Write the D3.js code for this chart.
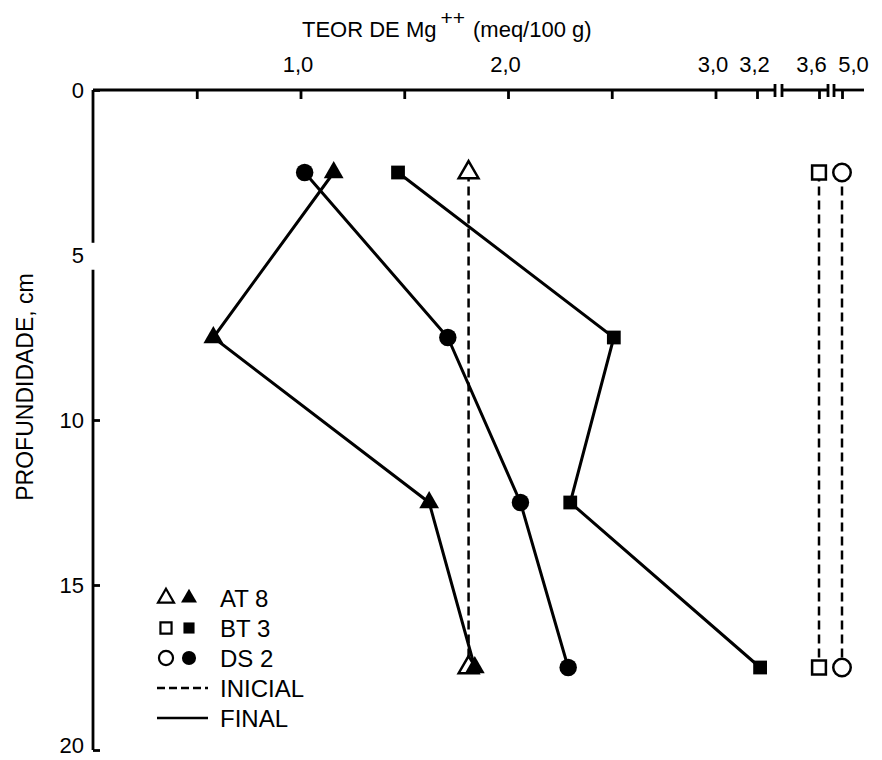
<html lang="pt">
<head>
<meta charset="utf-8">
<title>Teor de Mg++</title>
<style>
    body { margin: 0; background-color: white; }
    svg { background-color: white; font-family: "Liberation Sans", Arial, Helvetica, sans-serif; }
    .axis text { font-size: 22px; fill: black; }
    .axis line { stroke: black; stroke-width: 2.8; }
    .label { font-size: 22px; fill: black; }
    .legend text { font-size: 24px; fill: black; }
</style>
</head>
<body>
<script src="https://cdnjs.cloudflare.com/ajax/libs/d3/7.8.5/d3.min.js"></script>
<script>
// depths (cm)
var depths = [2.5, 7.5, 12.5, 17.5];
var initialDepths = [2.5, 17.5];

// Mg++ final (meq/100 g)
var at8Final = [1.16, 0.58, 1.62, 1.84];
var bt3Final = [1.47, 2.51, 2.30, 3.22];
var ds2Final = [1.02, 1.71, 2.06, 2.29];

// Mg++ initial
var at8Initial = [1.81, 1.81];
var bt3Initial = [3.6, 3.6];
var ds2Initial = [5.0, 5.0];

var xTicks = [0.5, 1.0, 1.5, 2.0, 2.5, 3.0, 3.2, 3.6, 5.0];
var xLabeled = [1.0, 2.0, 3.0, 3.2, 3.6, 5.0];
var yTicks = [0, 5, 10, 15, 20];

var legendNames = ["AT 8", "BT 3", "DS 2"];

var fullwidth = 882, fullheight = 760;

var svg = d3.select("body").append("svg")
    .attr("width", fullwidth)
    .attr("height", fullheight);

// broken axis: 0-3.2 linear, then 3.6 and 5.0 squeezed in
var xScale = d3.scaleLinear()
    .domain([0, 3.2, 3.6, 5.0, 5.1])
    .range([93, 757, 819, 842, 864]);

var yScale = d3.scaleLinear()
    .domain([0, 20])
    .range([90, 750]);

var comma = function(d) { return d3.format(".1f")(d).replace(".", ","); };

// top axis
var xAxis = d3.axisTop(xScale)
    .tickValues(xTicks)
    .tickSize(-9)
    .tickPadding(18)
    .tickFormat(function(d) { return xLabeled.indexOf(d) >= 0 ? comma(d) : ""; });

var gx = svg.append("g")
    .attr("class", "x axis")
    .attr("transform", "translate(0," + yScale(0) + ")")
    .call(xAxis);
gx.select(".domain").remove();
// crowded labels near the breaks are nudged apart
gx.selectAll("text").attr("dx", function(d) {
    return d === 5.0 ? 11 : d === 3.6 ? -8 : -3;
});

// axis line with two breaks
var breaks = [[775, 782], [828, 834]];
var segs = [[xScale(0), breaks[0][0]], [breaks[0][1], breaks[1][0]], [breaks[1][1], xScale(5.1)]];
gx.selectAll(".seg").data(segs).enter().append("line")
    .attr("class", "seg")
    .attr("x1", function(d) { return d[0]; })
    .attr("x2", function(d) { return d[1]; })
    .attr("y1", 0).attr("y2", 0);
gx.selectAll(".brk").data(d3.merge(breaks)).enter().append("line")
    .attr("class", "brk")
    .attr("x1", function(d) { return d; })
    .attr("x2", function(d) { return d; })
    .attr("y1", -6).attr("y2", 7);

// left axis
var yAxis = d3.axisLeft(yScale)
    .tickValues(yTicks)
    .tickSize(-7)
    .tickPadding(9);

var gy = svg.append("g")
    .attr("class", "y axis")
    .attr("transform", "translate(" + xScale(0) + ",0)")
    .call(yAxis);
gy.select(".domain").remove();
gy.selectAll(".tick").filter(function(d) { return d === 5; }).select("line").remove();
// keep the bottom label inside the picture
gy.selectAll(".tick").filter(function(d) { return d === 20; }).select("text").attr("dy", "0.12em");
gy.selectAll(".yseg").data([[0, 4.63], [5.45, 20]]).enter().append("line")
    .attr("class", "yseg")
    .attr("x1", 0).attr("x2", 0)
    .attr("y1", function(d) { return yScale(d[0]); })
    .attr("y2", function(d) { return yScale(d[1]); });

// titles
var title = svg.append("text")
    .attr("class", "label")
    .attr("x", 302)
    .attr("y", 37);
title.append("tspan").text("TEOR DE Mg");
title.append("tspan").attr("dy", -12).attr("dx", 4).style("font-size", "21px").text("++");
title.append("tspan").attr("dy", 12).attr("dx", 8).text("(meq/100 g)");

svg.append("text")
    .attr("class", "label")
    .attr("transform", "translate(33,387) rotate(-90)")
    .attr("text-anchor", "middle")
    .style("font-size", "23px")
    .text("PROFUNDIDADE, cm");

// lines
var line = d3.line()
    .x(function(d) { return xScale(d[0]); })
    .y(function(d) { return yScale(d[1]); });

function pairs(vals, deps) {
    return vals.map(function(v, i) { return [v, deps[i]]; });
}

var series = [
    { shape: d3.symbolTriangle, size: 170, fin: at8Final, ini: at8Initial },
    { shape: d3.symbolSquare, size: 190, fin: bt3Final, ini: bt3Initial },
    { shape: d3.symbolCircle, size: 240, fin: ds2Final, ini: ds2Initial }
];

series.forEach(function(s) {
    svg.append("path")
        .datum(pairs(s.ini, initialDepths))
        .attr("d", line)
        .attr("fill", "none")
        .attr("stroke", "black")
        .attr("stroke-width", 2.5)
        .attr("stroke-dasharray", "9,5");
    svg.append("path")
        .datum(pairs(s.fin, depths))
        .attr("d", line)
        .attr("fill", "none")
        .attr("stroke", "black")
        .attr("stroke-width", 3);
});

series.forEach(function(s) {
    var sym = d3.symbol().type(s.shape).size(s.size);
    svg.selectAll(null).data(pairs(s.ini, initialDepths)).enter().append("path")
        .attr("d", sym)
        .attr("transform", function(d) { return "translate(" + xScale(d[0]) + "," + yScale(d[1]) + ")"; })
        .attr("fill", "white")
        .attr("stroke", "black")
        .attr("stroke-width", 2.5);
    svg.selectAll(null).data(pairs(s.fin, depths)).enter().append("path")
        .attr("d", sym)
        .attr("transform", function(d) { return "translate(" + xScale(d[0]) + "," + yScale(d[1]) + ")"; })
        .attr("fill", "black");
});

// legend
var legend = svg.append("g").attr("class", "legend").attr("transform", "translate(0,598)");
var rowH = 30;

series.forEach(function(s, i) {
    var sym = d3.symbol().type(s.shape).size(s.size * 0.65);
    legend.append("path")
        .attr("d", sym)
        .attr("transform", "translate(166," + (i * rowH) + ")")
        .attr("fill", "white")
        .attr("stroke", "black")
        .attr("stroke-width", 2.2);
    legend.append("path")
        .attr("d", sym)
        .attr("transform", "translate(189," + (i * rowH) + ")")
        .attr("fill", "black");
    legend.append("text")
        .attr("x", 220)
        .attr("y", i * rowH)
        .attr("dy", "0.36em")
        .text(legendNames[i]);
});

var lineKeys = [["INICIAL", "8,4"], ["FINAL", null]];
lineKeys.forEach(function(k, j) {
    var yy = (3 + j) * rowH;
    legend.append("line")
        .attr("x1", 157).attr("x2", 208)
        .attr("y1", yy).attr("y2", yy)
        .attr("stroke", "black")
        .attr("stroke-width", 2.5)
        .attr("stroke-dasharray", k[1]);
    legend.append("text")
        .attr("x", 220)
        .attr("y", yy)
        .attr("dy", "0.36em")
        .text(k[0]);
});
</script>
</body>
</html>
